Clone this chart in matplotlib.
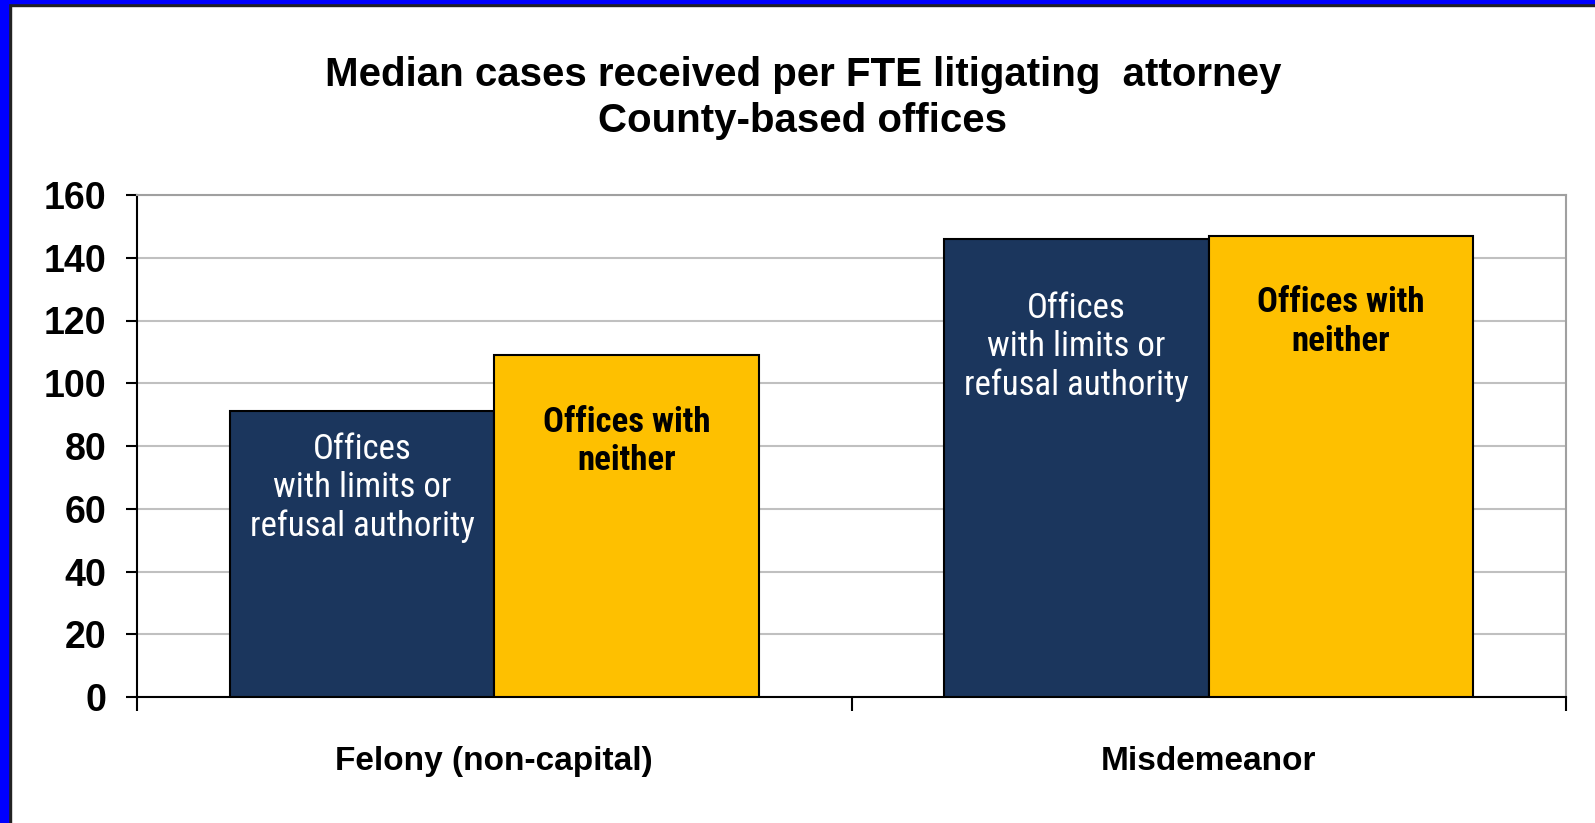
import matplotlib
matplotlib.use("Agg")
import numpy as np
import matplotlib.pyplot as plt
from matplotlib import font_manager
from matplotlib.patches import Rectangle

categories = ["Felony (non-capital)", "Misdemeanor"]
series_names = ["Offices\nwith limits or\nrefusal authority", "Offices with\nneither"]
limits_vals = [91, 146]
neither_vals = [109, 147]
# label centre heights (data units), placed by hand as in the original
limits_label_y = [66.5, 111.5]
neither_label_y = [81.5, 119.5]
yticks = [0, 20, 40, 60, 80, 100, 120, 140, 160]

navy = "#1b365d"
gold = "#fec000"

plt.rcParams['font.family'] = ['Liberation Sans', 'DejaVu Sans']

# the bar labels in the original use a narrow face; take one if there is any
names = {f.name for f in font_manager.fontManager.ttflist}
narrow = ['Liberation Sans']
for cand in ['Liberation Sans Narrow', 'Arial Narrow', 'Roboto Condensed', 'DejaVu Sans Condensed']:
    if cand in names:
        narrow = [cand, 'Liberation Sans']
        break
lab_size = 25 if narrow[0] != 'Liberation Sans' else 21

fig = plt.figure(figsize=(15.95, 8.23), dpi=100)
ax = fig.add_axes([137 / 1595, 1 - 697 / 823, (1566 - 137) / 1595, (697 - 195) / 823])

x = np.arange(len(categories))
w = 0.37
ax.bar(x - w / 2, limits_vals, w, color=navy, edgecolor="black", linewidth=1.5, zorder=3)
ax.bar(x + w / 2, neither_vals, w, color=gold, edgecolor="black", linewidth=1.5, zorder=3)

for i in range(len(categories)):
    ax.text(x[i] - w / 2, limits_label_y[i], series_names[0], color="white", ha="center",
            va="center", fontsize=lab_size, family=narrow, linespacing=1.2, zorder=4)
    ax.text(x[i] + w / 2, neither_label_y[i], series_names[1], color="black", ha="center",
            va="center", fontsize=lab_size, fontweight="bold", family=narrow,
            linespacing=1.2, zorder=4)

ax.set_xlim(-0.5, 1.5)
ax.set_ylim(0, 160)
ax.set_yticks(yticks)
ax.set_yticklabels([str(v) for v in yticks], fontsize=27, fontweight="bold")
ax.set_xticks([-0.5, 0.5, 1.5])
ax.set_xticklabels([])
ax.set_xticks(x, minor=True)
ax.set_xticklabels(categories, minor=True, fontsize=24, fontweight="bold")
ax.tick_params(axis="x", which="minor", length=0, pad=35)
ax.tick_params(axis="x", which="major", length=10, width=1.5, direction="out")
ax.tick_params(axis="y", length=8, width=1.5, direction="out", pad=14)

ax.yaxis.grid(True, color="#c0c0c0", linewidth=1.5, zorder=0)
ax.set_axisbelow(True)
ax.spines["left"].set_linewidth(1.5)
ax.spines["bottom"].set_linewidth(1.5)
ax.spines["top"].set_color("#a0a0a0")
ax.spines["right"].set_color("#a0a0a0")
ax.spines["top"].set_linewidth(1.5)
ax.spines["right"].set_linewidth(1.5)

fig.text(803 / 1595, 1 - 98 / 823, "Median cases received per FTE litigating  attorney\nCounty-based offices",
         ha="center", va="center", fontsize=29, fontweight="bold", linespacing=1.3)

# blue frame on the left and top edges
W, H = 1595, 823
fig.patches.append(Rectangle((0, 0), 8 / W, 1, transform=fig.transFigure, color="#0000ff", zorder=10))
fig.patches.append(Rectangle((0, 1 - 3 / H), 1, 3 / H, transform=fig.transFigure, color="#0000ff", zorder=10))
fig.patches.append(Rectangle((8 / W, 0), 3 / W, 1 - 3 / H, transform=fig.transFigure, color="#222222", zorder=9))
fig.patches.append(Rectangle((8 / W, 1 - 6 / H), 1, 3 / H, transform=fig.transFigure, color="#222222", zorder=9))

fig.savefig("out.png", dpi=100)
